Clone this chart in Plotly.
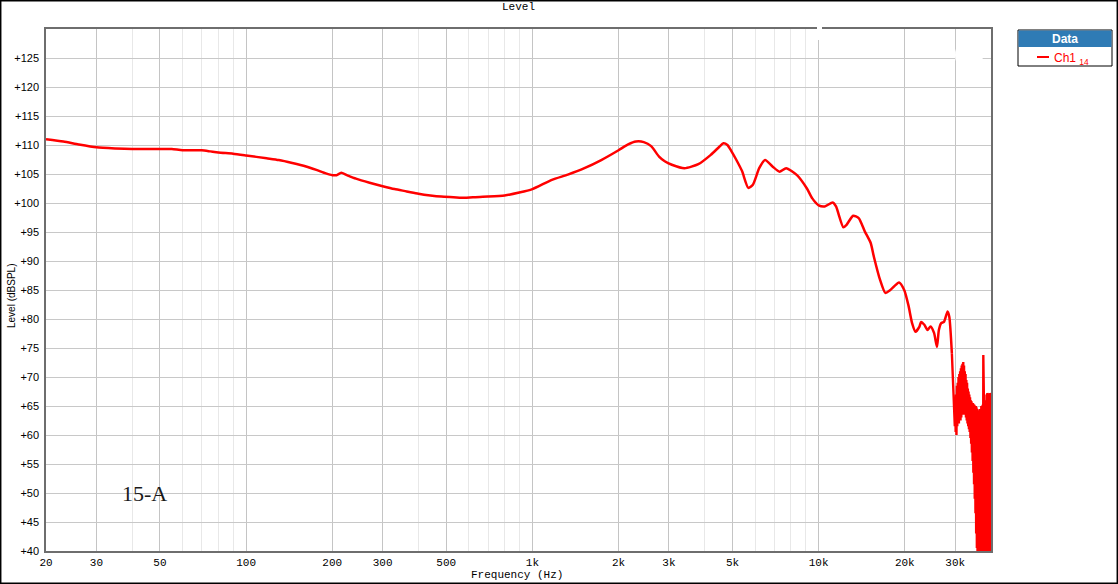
import plotly.graph_objects as go

# ---- data ----
freq_hz = [20, 23, 26, 30, 35, 40, 50, 55, 60, 70, 75, 80, 90, 100, 118, 130, 145, 162, 176, 190,
           200, 207, 215, 225, 242, 270, 300, 330, 364, 400, 440, 480, 530, 580, 620, 700, 800, 900,
           1000, 1170, 1330, 1520, 1740, 2000, 2160, 2300, 2450, 2600, 2770, 2900, 3070, 3400, 3800,
           4200, 4500, 4650, 4800, 4950, 5150, 5400, 5680, 5900, 6200, 6500, 6900, 7300, 7700, 8400,
           9100, 9500, 10000, 10500, 11200, 11500, 12200, 12500, 13200, 13800, 14500, 15200, 15600,
           16400, 17100, 17800, 19100, 19900, 20600, 21200, 21800, 22500, 22800, 23400, 24000, 24600,
           25300, 25900, 26300, 26800, 27400, 28200, 28600, 29200]
level_db = [111.0, 110.6, 110.1, 109.6, 109.4, 109.3, 109.3, 109.3, 109.1, 109.1, 108.9, 108.7, 108.5,
            108.2, 107.7, 107.4, 106.9, 106.3, 105.7, 105.1, 104.8, 104.8, 105.2, 104.8, 104.2, 103.5,
            102.9, 102.4, 102.0, 101.6, 101.3, 101.1, 101.0, 100.9, 101.0, 101.1, 101.3, 101.8,
            102.4, 104.0, 104.9, 106.0, 107.4, 109.1, 110.1, 110.6, 110.5, 109.8, 108.0, 107.2, 106.6,
            106.0, 106.7, 108.3, 109.7, 110.3, 110.0, 109.0, 107.5, 105.5, 102.6, 103.2, 106.0, 107.4,
            106.3, 105.4, 106.0, 104.8, 102.5, 100.8, 99.6, 99.4, 100.1, 99.4, 95.8, 96.2, 97.8, 97.4,
            95.1, 93.1, 90.7, 86.7, 84.5, 85.0, 86.3, 85.0, 82.3, 79.3, 77.8, 78.7, 79.5, 79.0, 78.1,
            78.7, 77.6, 75.2, 78.1, 79.3, 79.5, 81.3, 80.4, 74.1]

# noisy high-frequency tail (alternating upper / lower values of the band)
noise_freq_hz = [29200, 29500, 29700, 29800, 29900,
                 30000, 30100, 30200, 30300, 30400, 30500, 30600, 30700, 30800, 30900,
                 31000, 31100, 31200, 31300, 31400, 31500, 31600, 31700, 31800, 31900,
                 32000, 32100, 32200, 32300, 32400, 32500, 32600, 32700, 32800, 32900,
                 33000, 33100, 33200, 33300, 33400, 33500, 33600, 33700, 33800, 33900,
                 34000, 34100, 34200, 34300, 34400, 34500, 34600, 34700, 34800, 34900,
                 35000, 35100, 35200, 35300, 35400, 35500, 35600, 35700, 35800, 35900,
                 36000, 36100, 36200, 36300, 36400, 36500, 36600, 36700, 36800, 36900,
                 37000, 37100, 37200, 37300, 37400, 37500, 37600, 37700, 37800, 37900,
                 38000, 38100, 38200, 38300, 38400, 38500, 38600, 38700, 38800, 38900,
                 39000, 39100, 39200, 39300, 39400, 39500, 39600, 39700, 39800, 39900, 40000]
noise_level_db = [74.1, 68.0, 64.3, 62.5, 61.5,
                  66.0, 60.5, 67.0, 60.0, 68.5, 61.5, 69.0, 62.0, 70.0, 62.0,
                  70.5, 62.5, 71.0, 62.5, 71.5, 63.0, 72.0, 63.5, 72.3, 63.5,
                  72.6, 64.0, 72.0, 64.0, 71.0, 63.5, 70.5, 63.0, 69.5, 62.5,
                  69.0, 62.0, 68.0, 61.5, 67.5, 61.0, 67.0, 60.5, 66.5, 59.5,
                  66.0, 58.5, 65.8, 57.0, 65.5, 55.5, 65.5, 53.5, 65.3, 51.5,
                  65.2, 49.0, 65.0, 46.5, 65.0, 43.0, 64.8, 40.5, 64.5, 38.0,
                  64.2, 38.0, 64.0, 38.0, 64.0, 38.0, 64.5, 38.0, 64.8, 38.0,
                  65.0, 38.0, 65.0, 38.0, 65.2, 38.0, 73.8, 38.0, 65.2, 38.0,
                  65.5, 38.0, 66.0, 38.0, 66.5, 38.0, 67.0, 38.0, 67.2, 38.0,
                  67.0, 38.0, 66.8, 38.0, 67.0, 38.0, 67.2, 38.0, 67.0, 38.0, 66.5]

x_major_vals = [20, 30, 50, 100, 200, 300, 500, 1000, 2000, 3000, 5000, 10000, 20000, 30000]
x_major_text = ["20", "30", "50", "100", "200", "300", "500", "1k", "2k", "3k", "5k", "10k", "20k", "30k"]
x_minor_vals = [40, 60, 70, 80, 90, 400, 600, 700, 800, 900, 4000, 6000, 7000, 8000, 9000]
y_tick_vals = [40, 45, 50, 55, 60, 65, 70, 75, 80, 85, 90, 95, 100, 105, 110, 115, 120, 125]
y_tick_text = ["+" + str(v) for v in y_tick_vals]

series_name = "Ch1"
series_sub = "14"
note_text = "15-A"

RED = "#ff0000"

fig = go.Figure()
fig.add_trace(go.Scatter(x=freq_hz, y=level_db, mode="lines",
                         line=dict(color=RED, width=2.5, shape="spline", smoothing=0.6),
                         showlegend=False, hoverinfo="skip"))
fig.add_trace(go.Scatter(x=noise_freq_hz, y=noise_level_db, mode="lines",
                         line=dict(color=RED, width=2.4),
                         showlegend=False, hoverinfo="skip"))

mono = "Liberation Mono"
sans = "Liberation Sans, Arial"

fig.update_layout(
    width=1118, height=584,
    margin=dict(l=46, r=127, t=29, b=33),
    paper_bgcolor="white", plot_bgcolor="white",
    showlegend=False,
    xaxis=dict(
        type="log", range=[1.30103, 4.60206],
        tickmode="array", tickvals=x_major_vals, ticktext=x_major_text,
        tickfont=dict(family=mono, size=11, color="black"),
        showgrid=True, gridcolor="#c4c4c4", gridwidth=1,
        minor=dict(tickmode="array", tickvals=x_minor_vals, showgrid=True,
                   gridcolor="#e8e8e8", gridwidth=1, ticks=""),
        ticks="", ticklabelstandoff=0,
        showline=True, linecolor="#6e6e6e", linewidth=1.5, mirror=True,
        zeroline=False,
    ),
    yaxis=dict(
        range=[40, 130],
        tickmode="array", tickvals=y_tick_vals, ticktext=y_tick_text,
        tickfont=dict(family=sans, size=11, color="black"),
        showgrid=True, gridcolor="#c8c8c8", gridwidth=1,
        ticks="", ticklabelstandoff=3,
        showline=True, linecolor="#6e6e6e", linewidth=1.5, mirror=True,
        zeroline=False,
    ),
)

W, H = 945.0, 522.0
def px(xp):
    return (xp - 46) / W
def py(yp):
    return (551 - yp) / H

shapes = []
# white artifacts present on the reference
shapes.append(dict(type="circle", xref="paper", yref="paper", x0=px(955), x1=px(983), y0=py(72), y1=py(38),
                   fillcolor="white", line=dict(width=0), layer="above"))
shapes.append(dict(type="rect", xref="paper", yref="paper", x0=px(817), x1=px(822), y0=py(40), y1=py(27),
                   fillcolor="white", line=dict(width=0), layer="above"))
# outer border
shapes.append(dict(type="rect", xref="paper", yref="paper", x0=px(0.7), x1=px(1117.3), y0=py(583.3), y1=py(0.7),
                   line=dict(color="black", width=1.5), fillcolor="rgba(0,0,0,0)", layer="above"))
# legend box
shapes.append(dict(type="rect", xref="paper", yref="paper", x0=px(1018), x1=px(1112), y0=py(66), y1=py(30),
                   fillcolor="white", line=dict(color="black", width=1), layer="above"))
shapes.append(dict(type="rect", xref="paper", yref="paper", x0=px(1018.5), x1=px(1111.5), y0=py(47), y1=py(30.5),
                   fillcolor="#2f7bb5", line=dict(width=0), layer="above"))
shapes.append(dict(type="line", xref="paper", yref="paper", x0=px(1037), x1=px(1049), y0=py(57), y1=py(57),
                   line=dict(color=RED, width=2), layer="above"))
fig.update_layout(shapes=shapes)

annotations = [
    dict(text="Level", xref="paper", yref="paper", x=px(518), y=py(7), showarrow=False,
         font=dict(family=mono, size=11, color="black"), xanchor="center", yanchor="middle"),
    dict(text="Frequency (Hz)", xref="paper", yref="paper", x=px(517), y=py(575), showarrow=False,
         font=dict(family=mono, size=11, color="black"), xanchor="center", yanchor="middle"),
    dict(text="Level (dBSPL)", xref="paper", yref="paper", x=px(11), y=py(296), showarrow=False,
         textangle=-90, font=dict(family=sans, size=10, color="black"), xanchor="center", yanchor="middle"),
    dict(text=note_text, xref="x", yref="y", x=1.6435, y=50, showarrow=False,
         font=dict(family="Liberation Serif", size=22, color="#1a1a1a"), xanchor="center", yanchor="middle"),
    dict(text="<b>Data</b>", xref="paper", yref="paper", x=px(1065), y=py(38.5), showarrow=False,
         font=dict(family=sans, size=12, color="white"), xanchor="center", yanchor="middle"),
    dict(text=series_name + " <sub>" + series_sub + "</sub>", xref="paper", yref="paper", x=px(1052), y=py(59),
         showarrow=False, font=dict(family=sans, size=12, color=RED), xanchor="left", yanchor="middle"),
]
fig.update_layout(annotations=annotations)

fig.write_html("out.html", config={"displayModeBar": False},
               post_script="document.body.style.margin='0px';document.body.style.padding='0px';")
